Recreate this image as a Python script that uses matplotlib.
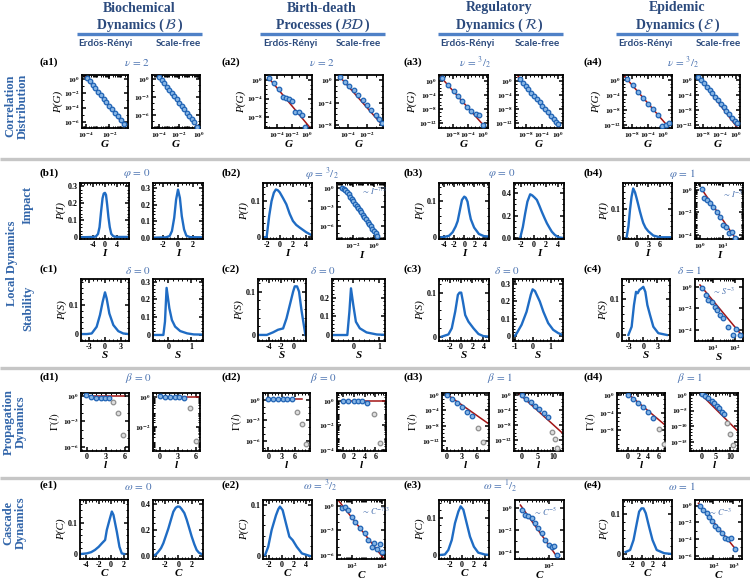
import numpy as np
import matplotlib
matplotlib.use('Agg')
import matplotlib.pyplot as plt
from matplotlib.lines import Line2D
from matplotlib.ticker import AutoMinorLocator, NullFormatter, LogLocator, FixedLocator

# ---------------- DATA (log10 values where the axis is logarithmic) ----------------
# Row a : correlation distribution P(G)
a1_er_g = [-3.9, -3.65, -3.4, -3.2, -2.95, -2.7, -2.5, -2.25, -2.0, -1.8, -1.55, -1.3, -1.05, -0.8]
a1_er_p = [0.15, -0.35, -0.9, -1.3, -1.85, -2.3, -2.75, -3.25, -3.75, -4.2, -4.7, -5.2, -5.75, -6.35]
a1_er_fit_g = [-4.0, -0.7]
a1_er_fit_p = [0.3, -6.6]
a1_sf_g = [-4.0, -3.75, -3.5, -3.25, -3.0, -2.75, -2.5, -2.25, -2.0, -1.75, -1.5, -1.25, -1.0, -0.75, -0.5, -0.2]
a1_sf_p = [0.4, -0.15, -0.7, -1.25, -1.8, -2.35, -2.85, -3.4, -3.95, -4.5, -5.05, -5.6, -6.15, -6.7, -7.25, -7.95]
a1_sf_fit_g = [-4.2, 0.0]
a1_sf_fit_p = [0.85, -8.4]

a2_er_g = [-5.1, -4.4, -3.7, -3.2, -2.8, -2.35, -2.0, -1.6, -1.1, -0.65, -0.2]
a2_er_p = [0.35, -0.7, -2.0, -3.6, -3.8, -4.2, -4.5, -6.9, -7.0, -7.6, -10.1]
a2_er_fit_g = [-5.1, 0.5]
a2_er_fit_p = [0.45, -10.5]
a2_sf_g = [-4.85, -4.35, -3.85, -3.4, -2.9, -2.4, -2.0, -1.5, -1.0, -0.65, -0.35]
a2_sf_p = [0.5, -0.3, -1.1, -1.8, -2.7, -3.6, -4.4, -5.3, -6.2, -6.9, -7.7]
a2_sf_fit_g = [-5.1, -0.25]
a2_sf_fit_p = [1.0, -8.1]

a3_er_g = [-10.9, -9.3, -7.7, -6.6, -5.4, -4.1, -3.1, -1.9, -1.1, 0.1]
a3_er_p = [0.75, -1.1, -3.0, -4.4, -5.9, -7.4, -8.6, -9.3, -9.6, -12.6]
a3_er_fit_g = [-11.6, 0.6]
a3_er_fit_p = [1.6, -13.1]
a3_sf_g = [-9.5, -8.8, -8.1, -7.4, -6.7, -6.0, -5.3, -4.6, -3.9, -3.2, -2.5, -1.8, -1.1, -0.4, 0.1]
a3_sf_p = [0.5, -0.6, -1.4, -2.4, -3.3, -4.3, -5.2, -6.1, -7.1, -8.0, -8.9, -9.9, -10.8, -11.7, -12.2]
a3_sf_fit_g = [-10.3, 0.75]
a3_sf_fit_p = [1.85, -13.9]

a4_er_g = [-9.35, -7.8, -6.35, -5.1, -3.8, -2.5, -1.25, -0.15, 0.75, 1.5]
a4_er_p = [0.3, -1.5, -3.3, -4.8, -6.4, -7.9, -9.4, -12.3, -12.1, -11.5]
a4_er_fit_g = [-10.2, 2.2]
a4_er_fit_p = [1.3, -13.6]
a4_sf_g = [-9.15, -8.5, -7.8, -7.1, -6.4, -5.8, -5.1, -4.4, -3.7, -3.0, -2.3, -1.6, -0.9, -0.3, 0.2]
a4_sf_p = [0.9, 0.0, -0.9, -1.8, -2.8, -3.6, -4.5, -5.4, -6.4, -7.3, -8.2, -9.2, -10.1, -10.9, -11.5]
a4_sf_fit_g = [-10.0, 0.9]
a4_sf_fit_p = [2.2, -13.5]

# Row b : impact P(I)
b1_er_i = [-8.0, -4.0, -3.0, -2.3, -1.8, -1.3, -0.8, -0.4, 0.0, 0.35, 0.75, 1.15, 1.6, 2.1, 2.8, 4.0, 8.0]
b1_er_p = [0.0, 0.002, 0.005, 0.02, 0.06, 0.15, 0.23, 0.258, 0.262, 0.25, 0.19, 0.12, 0.06, 0.02, 0.006, 0.002, 0.002]
b1_sf_i = [-3.3, -1.6, -1.1, -0.8, -0.5, -0.25, 0.0, 0.25, 0.5, 0.8, 1.1, 1.6, 3.3]
b1_sf_p = [0.0, 0.002, 0.01, 0.04, 0.12, 0.23, 0.29, 0.24, 0.13, 0.05, 0.012, 0.003, 0.002]

b2_er_i = [-2.25, -2.0, -1.6, -1.25, -0.9, -0.6, -0.3, 0.0, 0.5, 1.0, 1.5, 2.0, 2.5, 3.0, 4.0, 4.8]
b2_er_p = [0.0, 0.0, 0.06, 0.1, 0.123, 0.132, 0.13, 0.124, 0.108, 0.091, 0.065, 0.045, 0.034, 0.027, 0.014, 0.006]
b2_sf_i = [-3.0, -2.85, -2.7, -2.55, -2.4, -2.25, -2.1, -1.95, -1.8, -1.65, -1.5, -1.35, -1.2, -1.05, -0.9, -0.75, -0.6, -0.45, -0.3, -0.15, 0.0, 0.15, 0.3]
b2_sf_p = [0.0, -0.12, -0.3, -0.6, -0.95, -1.3, -1.65, -2.0, -2.4, -2.75, -3.1, -3.45, -3.8, -4.2, -4.55, -4.9, -5.25, -5.6, -6.0, -6.35, -6.7, -7.1, -7.5]
b2_sf_fit_i = [-2.7, 0.57]
b2_sf_fit_p = [-0.3, -8.2]

b3_er_i = [-4.5, -3.9, -3.0, -2.3, -1.7, -1.3, -0.8, -0.45, 0.0, 0.3, 0.65, 1.0, 1.3, 1.95, 2.9, 3.9, 4.9]
b3_er_p = [0.0, 0.001, 0.004, 0.014, 0.03, 0.045, 0.08, 0.104, 0.113, 0.11, 0.099, 0.07, 0.05, 0.027, 0.009, 0.003, 0.002]
b3_sf_i = [-2.2, -1.75, -1.37, -1.0, -0.55, -0.2, 0.2, 0.55, 0.95, 1.35, 1.8, 2.2, 2.6, 3.0, 3.5, 4.1, 4.9]
b3_sf_p = [0.0, 0.1, 0.22, 0.325, 0.39, 0.38, 0.36, 0.34, 0.29, 0.236, 0.18, 0.133, 0.095, 0.059, 0.03, 0.009, 0.002]

b4_er_i = [-2.56, -2.1, -1.7, -1.3, -0.87, -0.4, 0.0, 0.45, 0.85, 1.3, 1.7, 2.3, 3.0, 4.3, 6.0, 8.6]
b4_er_p = [0.003, 0.04, 0.098, 0.143, 0.172, 0.158, 0.138, 0.114, 0.092, 0.07, 0.052, 0.035, 0.023, 0.008, 0.002, 0.002]
b4_sf_i = [0.07, 0.19, 0.32, 0.44, 0.59, 0.73, 0.88, 1.0, 1.15, 1.28, 1.4, 1.54]
b4_sf_p = [0.06, -0.74, -0.89, -1.19, -1.48, -2.0, -2.37, -3.1, -3.26, -3.85, -3.7, -4.3]
b4_sf_fit_i = [0.07, 1.6]
b4_sf_fit_p = [0.09, -4.4]

# Row c : stability P(S)
c1_er_s = [-4.6, -3.5, -2.55, -1.6, -0.96, -0.45, 0.0, 0.32, 0.83, 1.6, 2.55, 3.5, 4.5]
c1_er_p = [0.0, 0.0, 0.002, 0.025, 0.066, 0.111, 0.144, 0.123, 0.071, 0.031, 0.01, 0.002, 0.0]
c1_sf_s = [-0.67, -0.22, -0.15, -0.08, 0.04, 0.15, 0.29, 0.51, 0.81, 1.1, 1.5]
c1_sf_p = [0.0, 0.0, 0.075, 0.265, 0.15, 0.084, 0.047, 0.022, 0.009, 0.003, 0.002]

c2_er_s = [-5.6, -4.3, -3.3, -2.5, -1.7, -1.16, -0.63, -0.1, 0.16, 0.52, 0.84, 1.22, 1.85]
c2_er_p = [0.0, 0.0, 0.006, 0.012, 0.015, 0.038, 0.069, 0.1, 0.112, 0.112, 0.1, 0.058, 0.0]
c2_sf_s = [-0.8, -0.23, -0.15, -0.09, 0.0, 0.1, 0.25, 0.51, 0.9, 1.2]
c2_sf_p = [0.0, 0.0, 0.125, 0.25, 0.16, 0.071, 0.036, 0.014, 0.003, 0.001]

c3_er_s = [-3.5, -2.3, -1.7, -1.08, -0.6, -0.3, 0.0, 0.3, 0.72, 1.3, 2.2, 3.1, 4.0, 5.0]
c3_er_p = [0.0, 0.005, 0.019, 0.057, 0.095, 0.1, 0.1, 0.08, 0.049, 0.034, 0.019, 0.006, 0.001, 0.0]
c3_sf_s = [-1.0, -0.9, -0.62, -0.34, -0.1, 0.0, 0.13, 0.4, 0.6, 0.87, 1.15, 1.43, 1.68]
c3_sf_p = [0.0, 0.013, 0.064, 0.14, 0.24, 0.27, 0.26, 0.2, 0.14, 0.074, 0.035, 0.016, 0.005]

c4_er_s = [-3.2, -2.5, -2.0, -1.56, -1.2, -0.86, -0.36, 0.0, 0.43, 0.86, 1.43, 2.14, 3.2, 5.0]
c4_er_p = [0.0, 0.023, 0.084, 0.121, 0.117, 0.126, 0.131, 0.135, 0.121, 0.084, 0.056, 0.023, 0.005, 0.0]
c4_sf_s = [0.47, 0.66, 0.77, 0.92, 1.08, 1.18, 1.31, 1.46, 1.69, 1.92, 2.07, 2.22]
c4_sf_p = [-0.15, -0.77, -1.23, -1.39, -1.85, -2.16, -2.6, -2.9, -3.7, -4.46, -3.9, -4.46]
c4_sf_fit_s = [0.39, 2.38]
c4_sf_fit_p = [0.16, -4.63]

# Row d : propagation Gamma(l)  (blue = fitted range, grey = excluded)
d1_er_l = [-0.1, 0.67, 1.45, 2.19, 2.86, 3.48]
d1_er_g = [0.12, -0.15, -0.2, -0.2, -0.2, -0.27]
d1_er_lo_l = [4.17, 4.95, 5.73]
d1_er_lo_g = [-0.67, -2.05, -4.6]
d1_er_fit_l = [-0.1, 5.8]
d1_er_fit_g = [0.02, 0.02]
d1_sf_l = [0.0, 0.83, 1.67, 2.5, 3.2, 4.0]
d1_sf_g = [0.09, 0.05, 0.05, 0.05, 0.03, -0.07]
d1_sf_lo_l = [5.0, 6.0]
d1_sf_lo_g = [-0.75, -2.97]
d1_sf_fit_l = [0.0, 6.7]
d1_sf_fit_g = [0.05, 0.05]

d2_er_l = [0.0, 1.1, 2.2, 3.3, 4.3, 5.3]
d2_er_g = [0.12, 0.1, 0.1, 0.1, 0.08, 0.08]
d2_er_lo_l = [6.4, 7.5, 8.6]
d2_er_lo_g = [-1.73, -3.5, -6.5]
d2_er_fit_l = [0.0, 7.6]
d2_er_fit_g = [0.1, 0.1]
d2_sf_l = [0.0, 0.94, 1.9, 2.7, 3.5, 4.5]
d2_sf_g = [0.0, -0.02, -0.03, -0.03, -0.04, -0.16]
d2_sf_lo_l = [5.7, 6.8]
d2_sf_lo_g = [-1.1, -3.45]
d2_sf_fit_l = [0.0, 8.0]
d2_sf_fit_g = [0.0, 0.0]

d3_er_l = [0.0, 1.0, 2.0, 3.0, 4.0, 5.0]
d3_er_g = [0.0, -1.13, -2.2, -3.2, -4.5, -5.5]
d3_er_lo_l = [6.2, 7.3]
d3_er_lo_g = [-8.5, -12.3]
d3_er_fit_l = [-0.1, 8.3]
d3_er_fit_g = [0.26, -7.4]
d3_sf_l = [0.0, 1.5, 2.8, 4.2, 5.6, 6.9, 8.2]
d3_sf_g = [0.0, -1.15, -1.95, -2.85, -3.8, -4.7, -5.8]
d3_sf_lo_l = [9.6, 10.4, 11.2]
d3_sf_lo_g = [-9.8, -11.6, -14.0]
d3_sf_fit_l = [-1.0, 12.9]
d3_sf_fit_g = [0.45, -10.2]

d4_er_l = [0.0, 0.97, 1.93, 2.9, 3.87, 5.0]
d4_er_g = [0.0, -0.98, -1.9, -2.8, -3.9, -5.3]
d4_er_lo_l = [6.1, 7.2]
d4_er_lo_g = [-7.8, -11.0]
d4_er_fit_l = [0.0, 7.3]
d4_er_fit_g = [0.23, -6.8]
d4_sf_l = [0.0, 1.1, 2.2, 3.4, 4.2, 5.2, 6.1, 7.0, 7.8]
d4_sf_g = [0.32, -0.32, -1.1, -1.8, -2.7, -3.5, -4.3, -5.4, -6.2]
d4_sf_lo_l = [8.7, 9.9, 10.8]
d4_sf_lo_g = [-9.1, -12.6, -16.1]
d4_sf_fit_l = [-0.7, 12.3]
d4_sf_fit_g = [0.55, -11.3]

# Row e : cascade P(C)
e1_er_c = [-4.9, -3.9, -3.2, -2.6, -2.0, -1.5, -0.97, -0.7, -0.27, 0.11, 0.37, 0.91, 1.33, 1.7, 2.1]
e1_er_p = [0.0, 0.002, 0.006, 0.013, 0.023, 0.034, 0.045, 0.077, 0.109, 0.136, 0.125, 0.071, 0.023, 0.002, 0.0]
e1_sf_c = [-3.7, -3.3, -3.0, -2.6, -2.25, -1.9, -1.5, -1.1, -0.75, -0.4, -0.1, 0.2, 0.5, 0.9, 1.25, 1.6, 2.0, 2.4, 2.75, 3.1, 3.5]
e1_sf_p = [0.003, 0.015, 0.033, 0.06, 0.098, 0.15, 0.21, 0.28, 0.34, 0.37, 0.38, 0.378, 0.36, 0.33, 0.28, 0.22, 0.15, 0.09, 0.046, 0.025, 0.015]

e2_er_c = [-2.7, -2.2, -1.64, -0.93, -0.55, -0.28, 0.16, 0.7, 1.25, 1.8, 2.46, 3.3, 4.6]
e2_er_p = [0.002, 0.018, 0.051, 0.08, 0.092, 0.097, 0.09, 0.064, 0.038, 0.031, 0.018, 0.005, 0.0]
e2_sf_c = [1.34, 1.56, 1.78, 2.0, 2.22, 2.55, 2.88, 3.1, 3.32, 3.5, 3.65, 3.85, 4.0]
e2_sf_p = [-0.32, -0.12, -0.53, -1.34, -1.95, -2.76, -3.37, -4.18, -5.0, -4.5, -5.3, -4.7, -5.6]
e2_sf_fit_c = [1.1, 4.1]
e2_sf_fit_p = [0.7, -6.4]

e3_er_c = [-3.6, -2.9, -2.3, -1.7, -1.15, -0.57, -0.17, 0.29, 0.86, 1.43, 2.1, 2.85, 4.0, 4.7]
e3_er_p = [0.0, 0.001, 0.013, 0.04, 0.085, 0.116, 0.13, 0.121, 0.085, 0.049, 0.022, 0.006, 0.001, 0.0]
e3_sf_c = [1.37, 1.45, 1.52, 1.6, 1.68, 1.76, 1.84, 1.92, 2.0, 2.08, 2.12, 2.2]
e3_sf_p = [-0.16, -0.62, -0.7, -0.92, -1.38, -1.84, -2.3, -2.92, -3.38, -3.54, -3.47, -4.3]
e3_sf_fit_c = [1.33, 2.21]
e3_sf_fit_p = [0.3, -4.5]

e4_er_c = [-3.2, -2.35, -1.7, -1.08, -0.64, -0.19, 0.19, 0.62, 1.25, 1.9, 2.7, 4.1, 5.6]
e4_er_p = [0.005, 0.01, 0.035, 0.077, 0.106, 0.114, 0.114, 0.102, 0.068, 0.035, 0.01, 0.002, 0.0]
e4_sf_c = [1.33, 1.5, 1.67, 1.8, 1.92, 2.08, 2.25, 2.42, 2.58, 2.75, 2.87, 3.08]
e4_sf_p = [-0.04, -0.5, -0.9, -1.37, -1.88, -2.39, -2.78, -3.25, -3.84, -3.95, -3.84, -5.2]
e4_sf_fit_c = [1.25, 3.17]
e4_sf_fit_p = [0.28, -5.4]

# Text
col_titles = [('Biochemical', 'Dynamics (', r'$\mathcal{B}$'),
              ('Birth-death', 'Processes (', r'$\mathcal{BD}$'),
              ('Regulatory', 'Dynamics (', r'$\mathcal{R}$'),
              ('Epidemic', 'Dynamics (', r'$\mathcal{E}$')]
net_names = ['Erdős-Rényi', 'Scale-free']
params = {'a': [r'$\nu\,=\,2$', r'$\nu\,=\,2$', r'$\nu\,=\,{}^{3}/_{2}$', r'$\nu\,=\,{}^{3}/_{2}$'],
          'b': [r'$\varphi\,=\,0$', r'$\varphi\,=\,{}^{3}/_{2}$', r'$\varphi\,=\,0$', r'$\varphi\,=\,1$'],
          'c': [r'$\delta\,=\,0$', r'$\delta\,=\,0$', r'$\delta\,=\,0$', r'$\delta\,=\,1$'],
          'd': [r'$\beta\,=\,0$', r'$\beta\,=\,0$', r'$\beta\,=\,1$', r'$\beta\,=\,1$'],
          'e': [r'$\omega\,=\,0$', r'$\omega\,=\,{}^{3}/_{2}$', r'$\omega\,=\,{}^{1}/_{2}$', r'$\omega\,=\,1$']}

# ---------------- STYLE ----------------
plt.rcParams['font.family'] = ['Liberation Serif', 'DejaVu Serif']
plt.rcParams['mathtext.fontset'] = 'stix'

HEAD = '#2b4a7d'
RULE = '#4f81c7'
SIDE = '#3366aa'
PARAM = '#4a72b0'
CURVE = '#1f6cc4'
FIT = '#a31515'
GREY = '#c6c6c6'
TICKSIZE = 5.8
LOGTICKSIZE = 5.2

W, H = 750, 587
fig = plt.figure(figsize=(7.5, 5.87), dpi=100)


def pw(v):
    return np.power(10.0, np.asarray(v, dtype=float))


def ftext(x, y, s, **kw):
    return fig.text(x / W, 1 - y / H, s, **kw)


def hline(x0, x1, y, color, lw):
    fig.add_artist(Line2D([x0 / W, x1 / W], [1 - y / H, 1 - y / H], color=color, lw=lw,
                          transform=fig.transFigure, solid_capstyle='butt'))


def make_ax(pos):
    l, r, t, b = pos
    ax = fig.add_axes([l / W, 1 - b / H, (r - l) / W, (b - t) / H])
    for s in ax.spines.values():
        s.set_linewidth(1.3)
    ax.tick_params(which='both', direction='in', top=True, right=True, labelsize=TICKSIZE, pad=1.5)
    ax.tick_params(which='major', length=3, width=1.1)
    ax.tick_params(which='minor', length=1.6, width=0.7)
    return ax


def set_axis(ax, which, islog, lim, ticks, labels):
    axis = ax.xaxis if which == 'x' else ax.yaxis
    setlim = ax.set_xlim if which == 'x' else ax.set_ylim
    if islog:
        (ax.set_xscale if which == 'x' else ax.set_yscale)('log')
        lo, hi = pw(lim)
        setlim(lo, hi)
        axis.set_major_locator(FixedLocator(pw(ticks)))
        axis.set_ticklabels([r'$\mathbf{10^{%d}}$' % e for e in ticks], fontsize=LOGTICKSIZE)
        if lim[1] - lim[0] > 5:
            axis.set_minor_locator(LogLocator(base=10, subs=(1.0,), numticks=60))
        else:
            axis.set_minor_locator(LogLocator(base=10, subs=np.arange(2, 10) * 1.0, numticks=60))
        axis.set_minor_formatter(NullFormatter())
    else:
        setlim(*lim)
        axis.set_major_locator(FixedLocator(ticks))
        axis.set_ticklabels(labels, fontweight='bold')
        axis.set_minor_locator(AutoMinorLocator())


def draw(pos, kind, x, y, xlim, ylim, xt, yt, xlabel, ylabel=None, xlog=False, ylog=False,
         xtl=None, ytl=None, fitx=None, fity=None, lox=None, loy=None, note=None, notexy=None):
    ax = make_ax(pos)
    xv = pw(x) if xlog else np.asarray(x)
    yv = pw(y) if ylog else np.asarray(y)
    if kind == 'curve':
        ax.plot(xv, yv, '-', color=CURVE, lw=1.7, solid_joinstyle='round')
    else:
        if fitx is not None:
            fxv = pw(fitx) if xlog else np.asarray(fitx)
            fyv = pw(fity) if ylog else np.asarray(fity)
            ax.plot(fxv, fyv, '-', color=FIT, lw=1.1, zorder=2)
        ax.plot(xv, yv, 'o', ms=3.3, mfc='#86b4e4', mec='#1f63b5', mew=0.9, zorder=3)
        if lox is not None:
            lxv = pw(lox) if xlog else np.asarray(lox)
            lyv = pw(loy) if ylog else np.asarray(loy)
            ax.plot(lxv, lyv, 'o', ms=3.3, mfc='#dedede', mec='#8f8f8f', mew=0.9, zorder=3)
    set_axis(ax, 'x', xlog, xlim, xt, xtl)
    set_axis(ax, 'y', ylog, ylim, yt, ytl)
    ax.set_xlabel(xlabel, fontsize=8, fontstyle='italic', fontweight='bold', labelpad=0)
    if ylabel:
        ax.set_ylabel(ylabel, fontsize=8, fontstyle='italic', labelpad=1)
    if note:
        ax.text(notexy[0], notexy[1], note, transform=ax.transAxes, fontsize=6,
                color=PARAM, ha='left', va='center')
    return ax


L01 = ['0', '0.1']

# ---------------- ROW a ----------------
draw((82, 128, 75, 128), 'pts', a1_er_g, a1_er_p, (-4.3, -0.45), (-6.85, 0.55), [-4, -2], [0, -2, -4, -6],
     'G', 'P(G)', True, True, fitx=a1_er_fit_g, fity=a1_er_fit_p)
draw((152, 200, 75, 128), 'pts', a1_sf_g, a1_sf_p, (-4.7, 0.1), (-8.2, 0.7), [-4, -2, 0], [0, -3, -6],
     'G', None, True, True, fitx=a1_sf_fit_g, fity=a1_sf_fit_p)
draw((265, 312, 75, 128), 'pts', a2_er_g, a2_er_p, (-5.6, 0.67), (-10.4, 1.1), [-4, -2, 0], [0, -4, -8],
     'G', 'P(G)', True, True, fitx=a2_er_fit_g, fity=a2_er_fit_p)
draw((335, 383, 75, 128), 'pts', a2_sf_g, a2_sf_p, (-5.4, -0.24), (-8.5, 0.9), [-4, -2], [0, -4, -8],
     'G', None, True, True, fitx=a2_sf_fit_g, fity=a2_sf_fit_p)
draw((439, 488, 75, 128), 'pts', a3_er_g, a3_er_p, (-11.6, 1.4), (-13.4, 1.6), [-8, -4, 0], [0, -4, -8, -12],
     'G', 'P(G)', True, True, fitx=a3_er_fit_g, fity=a3_er_fit_p)
draw((515, 563, 75, 128), 'pts', a3_sf_g, a3_sf_p, (-10.75, 1.25), (-13.4, 1.7), [-8, -4, 0], [0, -4, -8, -12],
     'G', None, True, True, fitx=a3_sf_fit_g, fity=a3_sf_fit_p)
draw((623, 672, 75, 128), 'pts', a4_er_g, a4_er_p, (-10.3, 2.3), (-12.9, 1.3), [-8, -4, 0], [0, -4, -8, -12],
     'G', 'P(G)', True, True, fitx=a4_er_fit_g, fity=a4_er_fit_p)
draw((695, 740, 75, 128), 'pts', a4_sf_g, a4_sf_p, (-10.0, 1.0), (-12.8, 1.3), [-8, -4, 0], [0, -4, -8, -12],
     'G', None, True, True, fitx=a4_sf_fit_g, fity=a4_sf_fit_p)

# ---------------- ROW b ----------------
draw((80, 129, 183, 239), 'curve', b1_er_i, b1_er_p, (-8.3, 8), (-0.01, 0.32), [-4, 0, 4], [0, 0.1, 0.2, 0.3],
     'I', 'P(I)', xtl=['-4', '0', '4'], ytl=['0', '0.1', '0.2', '0.3'])
draw((153, 203, 183, 239), 'curve', b1_sf_i, b1_sf_p, (-3.3, 3.3), (-0.008, 0.33), [-2, 0, 2], [0, 0.1, 0.2, 0.3],
     'I', None, xtl=['-2', '0', '2'], ytl=['0.0', '0.1', '0.2', '0.3'])
draw((263, 312, 183, 239), 'curve', b2_er_i, b2_er_p, (-2.55, 4.9), (-0.005, 0.15), [-2, 0, 2, 4], [0, 0.1],
     'I', 'P(I)', xtl=['-2', '0', '2', '4'], ytl=L01)
draw((337, 385, 183, 239), 'pts', b2_sf_i, b2_sf_p, (-3.5, 1.05), (-8.0, 0.85), [-2, 0], [0, -3, -6],
     'I', None, True, True, fitx=b2_sf_fit_i, fity=b2_sf_fit_p,
     note=r'$\sim\,I^{-7/3}$', notexy=(0.5, 0.86))
draw((439, 489, 183, 239), 'curve', b3_er_i, b3_er_p, (-5, 4.9), (-0.005, 0.151), [-4, -2, 0, 2, 4], [0, 0.1],
     'I', 'P(I)', xtl=['-4', '-2', '0', '2', '4'], ytl=L01)
draw((514, 564, 183, 239), 'curve', b3_sf_i, b3_sf_p, (-3.2, 5.0), (-0.006, 0.49), [-2, 0, 2, 4], [0, 0.2, 0.4],
     'I', None, xtl=['-2', '0', '2', '4'], ytl=['0.0', '0.2', '0.4'])
draw((623, 672, 183, 239), 'curve', b4_er_i, b4_er_p, (-3.5, 9.1), (-0.004, 0.191), [0, 3, 6], [0, 0.1],
     'I', 'P(I)', xtl=['0', '3', '6'], ytl=L01)
draw((695, 743, 183, 239), 'pts', b4_sf_i, b4_sf_p, (-0.22, 1.9), (-4.36, 0.62), [0, 1], [0, -2, -4],
     'I', None, True, True, fitx=b4_sf_fit_i, fity=b4_sf_fit_p,
     note=r'$\sim\,I^{-3}$', notexy=(0.56, 0.8))

# ---------------- ROW c ----------------
draw((81, 129, 279, 341), 'curve', c1_er_s, c1_er_p, (-4.6, 4.6), (-0.024, 0.19), [-3, 0, 3], [0, 0.1],
     'S', 'P(S)', xtl=['-3', '0', '3'], ytl=L01)
draw((153, 203, 279, 341), 'curve', c1_sf_s, c1_sf_p, (-0.67, 1.5), (-0.034, 0.315), [0, 1], [0, 0.1, 0.2, 0.3],
     'S', None, xtl=['0', '1'], ytl=['0', '0.1', '0.2', '0.3'])
draw((258, 306, 279, 341), 'curve', c2_er_s, c2_er_p, (-5.7, 1.95), (-0.014, 0.129), [-4, -2, 0, 2], [0, 0.1],
     'S', 'P(S)', xtl=['-4', '-2', '0', '2'], ytl=L01)
draw((332, 385, 279, 341), 'curve', c2_sf_s, c2_sf_p, (-0.82, 1.22), (-0.032, 0.3), [0, 1], [0, 0.1, 0.2],
     'S', None, xtl=['0', '1'], ytl=['0', '0.1', '0.2'])
draw((439, 489, 279, 341), 'curve', c3_er_s, c3_er_p, (-4.0, 5.0), (-0.01, 0.131), [-2, 0, 2, 4], [0, 0.1],
     'S', 'P(S)', xtl=['-2', '0', '2', '4'], ytl=L01)
draw((513, 563, 279, 341), 'curve', c3_sf_s, c3_sf_p, (-1.1, 1.7), (-0.03, 0.33), [-1, 0, 1], [0, 0.1, 0.2, 0.3],
     'S', None, xtl=['-1', '0', '1'], ytl=['0', '0.1', '0.2', '0.3'])
draw((622, 670, 279, 341), 'curve', c4_er_s, c4_er_p, (-4.56, 5.7), (-0.017, 0.157), [-3, 0, 3], [0, 0.1],
     'S', 'P(S)', xtl=['-3', '0', '3'], ytl=L01)
draw((695, 743, 279, 341), 'pts', c4_sf_s, c4_sf_p, (0.16, 2.37), (-5.0, 0.71), [1, 2], [0, -2, -4],
     'S', None, True, True, fitx=c4_sf_fit_s, fity=c4_sf_fit_p,
     note=r'$\sim\,S^{-3}$', notexy=(0.36, 0.8))

# ---------------- ROW d ----------------
draw((81, 129, 393, 451), 'pts', d1_er_l, d1_er_g, (-0.9, 6.6), (-6.5, 0.36), [0, 3, 6], [0, -3, -6],
     'l', r'$\Gamma(l)$', False, True, xtl=['0', '3', '6'],
     fitx=d1_er_fit_l, fity=d1_er_fit_g, lox=d1_er_lo_l, loy=d1_er_lo_g)
draw((153, 200, 393, 451), 'pts', d1_sf_l, d1_sf_g, (-1.2, 6.7), (-3.65, 0.29), [0, 3, 6], [0, -2],
     'l', None, False, True, xtl=['0', '3', '6'],
     fitx=d1_sf_fit_l, fity=d1_sf_fit_g, lox=d1_sf_lo_l, loy=d1_sf_lo_g)
draw((263, 310, 393, 451), 'pts', d2_er_l, d2_er_g, (-1.2, 9.4), (-7.5, 1.0), [0, 3, 6], [0, -3, -6],
     'l', r'$\Gamma(l)$', False, True, xtl=['0', '3', '6'],
     fitx=d2_er_fit_l, fity=d2_er_fit_g, lox=d2_er_lo_l, loy=d2_er_lo_g)
draw((337, 386, 393, 451), 'pts', d2_sf_l, d2_sf_g, (-1.2, 8.0), (-4.1, 0.63), [0, 2, 4, 6], [0, -2, -4],
     'l', None, False, True, xtl=['0', '2', '4', '6'],
     fitx=d2_sf_fit_l, fity=d2_sf_fit_g, lox=d2_sf_lo_l, loy=d2_sf_lo_g)
draw((442, 489, 393, 451), 'pts', d3_er_l, d3_er_g, (-0.94, 8.5), (-14.6, 0.5), [0, 3, 6], [0, -4, -8, -12],
     'l', r'$\Gamma(l)$', False, True, xtl=['0', '3', '6'],
     fitx=d3_er_fit_l, fity=d3_er_fit_g, lox=d3_er_lo_l, loy=d3_er_lo_g)
draw((514, 563, 393, 451), 'pts', d3_sf_l, d3_sf_g, (-2.4, 13), (-14.9, 0.5), [0, 5, 10], [0, -4, -8, -12],
     'l', None, False, True, xtl=['0', '5', '10'],
     fitx=d3_sf_fit_l, fity=d3_sf_fit_g, lox=d3_sf_lo_l, loy=d3_sf_lo_g)
draw((617, 665, 393, 451), 'pts', d4_er_l, d4_er_g, (-2.2, 7.3), (-12.7, 0.45), [0, 2, 4, 6], [0, -4, -8],
     'l', r'$\Gamma(l)$', False, True, xtl=['0', '2', '4', '6'],
     fitx=d4_er_fit_l, fity=d4_er_fit_g, lox=d4_er_lo_l, loy=d4_er_lo_g)
draw((690, 738, 393, 451), 'pts', d4_sf_l, d4_sf_g, (-4.2, 12.7), (-18, 0.65), [0, 5, 10], [0, -5, -10, -15],
     'l', None, False, True, xtl=['0', '5', '10'],
     fitx=d4_sf_fit_l, fity=d4_sf_fit_g, lox=d4_sf_lo_l, loy=d4_sf_lo_g)

# ---------------- ROW e ----------------
draw((80, 128, 500, 559), 'curve', e1_er_c, e1_er_p, (-5.0, 2.7), (-0.016, 0.173), [-4, -2, 0, 2], [0, 0.1],
     'C', 'P(C)', xtl=['-4', '-2', '0', '2'], ytl=L01)
draw((153, 203, 500, 559), 'curve', e1_sf_c, e1_sf_p, (-3.8, 3.7), (-0.023, 0.43), [-2, 0, 2], [0, 0.2, 0.4],
     'C', None, xtl=['-2', '0', '2'], ytl=['0.0', '0.2', '0.4'])
draw((263, 312, 500, 559), 'curve', e2_er_c, e2_er_p, (-3.05, 4.95), (-0.006, 0.11), [-2, 0, 2, 4], [0, 0.1],
     'C', 'P(C)', xtl=['-2', '0', '2', '4'], ytl=L01)
draw((337, 385, 500, 559), 'pts', e2_sf_c, e2_sf_p, (1.03, 4.2), (-6.5, 0.7), [2, 4], [0, -3, -6],
     'C', None, True, True, fitx=e2_sf_fit_c, fity=e2_sf_fit_p,
     note=r'$\sim\,C^{-7/3}$', notexy=(0.5, 0.81))
draw((439, 489, 500, 559), 'curve', e3_er_c, e3_er_p, (-3.9, 4.7), (-0.011, 0.147), [-2, 0, 2, 4], [0, 0.1],
     'C', 'P(C)', xtl=['-2', '0', '2', '4'], ytl=L01)
draw((515, 564, 500, 559), 'pts', e3_sf_c, e3_sf_p, (1.2, 2.37), (-4.67, 0.77), [2], [0, -2, -4],
     'C', None, True, True, fitx=e3_sf_fit_c, fity=e3_sf_fit_p,
     note=r'$\sim\,C^{-5}$', notexy=(0.36, 0.8))
draw((623, 672, 500, 559), 'curve', e4_er_c, e4_er_p, (-3.7, 5.6), (-0.0125, 0.135), [-2, 0, 2, 4], [0, 0.1],
     'C', 'P(C)', xtl=['-2', '0', '2', '4'], ytl=L01)
draw((695, 742, 500, 559), 'pts', e4_sf_c, e4_sf_p, (1.08, 3.43), (-6.4, 0.67), [2, 3], [0, -2, -4, -6],
     'C', None, True, True, fitx=e4_sf_fit_c, fity=e4_sf_fit_p,
     note=r'$\sim\,C^{-3}$', notexy=(0.28, 0.8))

# ---------------- HEADERS & LABELS ----------------
head_x = [139, 322, 499, 677]
rule_x = [(77, 202), (260, 385), (438, 563), (616, 738)]
net_x = [(105, 178), (290, 358), (467, 537), (645, 718)]
renderer = fig.canvas.get_renderer()
for k in range(4):
    ftext(head_x[k], 8, col_titles[k][0], ha='center', va='center', fontsize=10,
          color=HEAD, fontweight='bold')
    # second header line: bold words + calligraphic letters + closing bracket
    t1 = ftext(0, 25, col_titles[k][1], ha='left', va='center', fontsize=10, color=HEAD, fontweight='bold')
    t2 = ftext(0, 25, col_titles[k][2], ha='left', va='center', fontsize=10.5, color=HEAD)
    t3 = ftext(0, 25, ')', ha='left', va='center', fontsize=10, color=HEAD, fontweight='bold')
    w1 = t1.get_window_extent(renderer).width
    w2 = t2.get_window_extent(renderer).width
    w3 = t3.get_window_extent(renderer).width
    x0 = head_x[k] - (w1 + w2 + w3) / 2
    t1.set_x(x0 / W)
    t2.set_x((x0 + w1 + 0.5) / W)
    t3.set_x((x0 + w1 + w2 + 1) / W)
    hline(rule_x[k][0], rule_x[k][1], 34, RULE, 2.4)
    for j in range(2):
        ftext(net_x[k][j], 44, net_names[j], ha='center', va='center', fontsize=7.2,
              color=HEAD, family=['Lato', 'DejaVu Sans'], fontweight='bold')

for y in (159, 368, 478):
    hline(0, 750, y, GREY, 2.4)

# side labels
side = dict(rotation=90, ha='center', va='center', fontsize=9, color=SIDE, fontweight='bold', linespacing=1.05)
ftext(17, 106, 'Correlation\nDistribution', **side)
ftext(12, 263, 'Local Dynamics', **side)
ftext(28, 205, 'Impact', **side)
ftext(28, 308, 'Stability', **side)
ftext(15, 422, 'Propagation\nDynamics', **side)
ftext(15, 523, 'Cascade\nDynamics', **side)

# panel labels and parameter titles
row_y = {'a': 62, 'b': 173, 'c': 269, 'd': 377, 'e': 485}
lab_x = [39, 222, 403, 583]
par_x = {'a': [137, 322, 475, 683], 'b': [137, 322, 502, 682], 'c': [138, 323, 507, 690],
         'd': [138, 323, 500, 690], 'e': [138, 320, 500, 682]}
for r in 'abcde':
    for k in range(4):
        ftext(lab_x[k], row_y[r], '(%s%d)' % (r, k + 1), ha='left', va='center', fontsize=8,
              color='black', fontweight='bold')
        ftext(par_x[r][k], row_y[r] + 1, params[r][k], ha='center', va='center', fontsize=8, color=PARAM)

fig.savefig('out.png', dpi=100)
